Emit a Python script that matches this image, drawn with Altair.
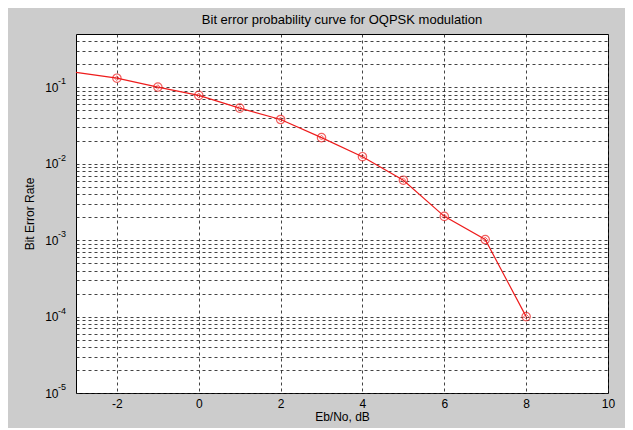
import altair as alt
import pandas as pd

# Data
ebno = [-3, -2, -1, 0, 1, 2, 3, 4, 5, 6, 7, 8]
ber = [0.157, 0.132, 0.101, 0.0786, 0.0536, 0.038, 0.022, 0.0124, 0.0061, 0.00205, 0.00102, 0.0001]
marker_ebno = [-2, -1, 0, 1, 2, 3, 4, 5, 6, 7, 8]
marker_ber = [0.132, 0.101, 0.0786, 0.0536, 0.038, 0.022, 0.0124, 0.0061, 0.00205, 0.00102, 0.0001]

x_ticks = [-2, 0, 2, 4, 6, 8, 10]
decades = [1e-5, 1e-4, 1e-3, 1e-2, 1e-1]
exponents = ["-5", "-4", "-3", "-2", "-1"]
multipliers = [1, 2, 3, 4, 5, 6, 7, 8, 9]

y_grid = [m * d for d in decades[:-1] for m in multipliers] + [0.1, 0.2, 0.30000000000000004, 0.4]

label_expr = "".join(f"datum.value == {repr(d)} ? '10' : " for d in decades) + "''"
x_label_expr = "datum.value < 0 ? '-' + abs(datum.value) : '' + datum.value"

line_df = pd.DataFrame({"x": ebno, "y": ber})
mark_df = pd.DataFrame({"x": marker_ebno, "y": marker_ber})
exp_df = pd.DataFrame({"y": decades, "e": exponents})

FONT = "Liberation Sans"

x_enc = alt.X(
    "x:Q",
    scale=alt.Scale(domain=[-3, 10], nice=False, zero=False),
    axis=alt.Axis(
        values=x_ticks, labelExpr=x_label_expr, title="Eb/No, dB", grid=True, ticks=False,
        domain=False, labelFontSize=12, labelFont=FONT, labelColor="black", labelPadding=5,
        titleFontSize=12, titleFont=FONT, titleFontWeight="normal", titleColor="black",
        titlePadding=2, gridColor="#222222", gridDash=[3, 3], gridOpacity=0.85,
        labelFlush=False,
    ),
)
y_scale = alt.Scale(type="log", domain=[1e-5, 0.5], nice=False)
y_enc = alt.Y(
    "y:Q",
    scale=y_scale,
    axis=alt.Axis(
        values=y_grid, labelExpr=label_expr, title="Bit Error Rate", grid=True,
        ticks=False, domain=False, labelFontSize=12, labelFont=FONT, labelColor="black",
        labelPadding=18, titleFontSize=12, titleFont=FONT, titleFontWeight="normal",
        titleColor="black", titlePadding=8, gridColor="#222222", gridDash=[3, 3],
        gridOpacity=0.85, labelOverlap=False, labelFlush=False,
    ),
)

line = alt.Chart(line_df).mark_line(color="#ee1c1c", strokeWidth=1.2).encode(x=x_enc, y=y_enc)
circles = alt.Chart(mark_df).mark_point(
    shape="circle", filled=False, color="#ee1c1c", size=70, strokeWidth=1.2
).encode(x=x_enc, y=y_enc)
diamonds = alt.Chart(mark_df).mark_point(
    shape="diamond", filled=False, color="#ee1c1c", size=22, strokeWidth=1
).encode(x=x_enc, y=y_enc)
exps = alt.Chart(exp_df).mark_text(
    align="left", baseline="middle", font=FONT, fontSize=9, color="black", dy=-6
).encode(x=alt.value(-18), y=alt.Y("y:Q", scale=y_scale), text="e:N")

chart = alt.layer(line, circles, diamonds, exps).properties(
    width=532,
    height=359,
    autosize=alt.AutoSizeParams(type="none"),
    padding={"left": 68, "top": 26, "right": 17, "bottom": 35},
    background="#cccccc",
    title=alt.TitleParams(
        "Bit error probability curve for OQPSK modulation",
        fontSize=13, font=FONT, fontWeight="normal", color="black",
        anchor="middle", offset=7,
    ),
).configure_view(fill="white", stroke="black", strokeWidth=1)

chart.save("out.html", embed_options={"renderer": "svg", "actions": False})
